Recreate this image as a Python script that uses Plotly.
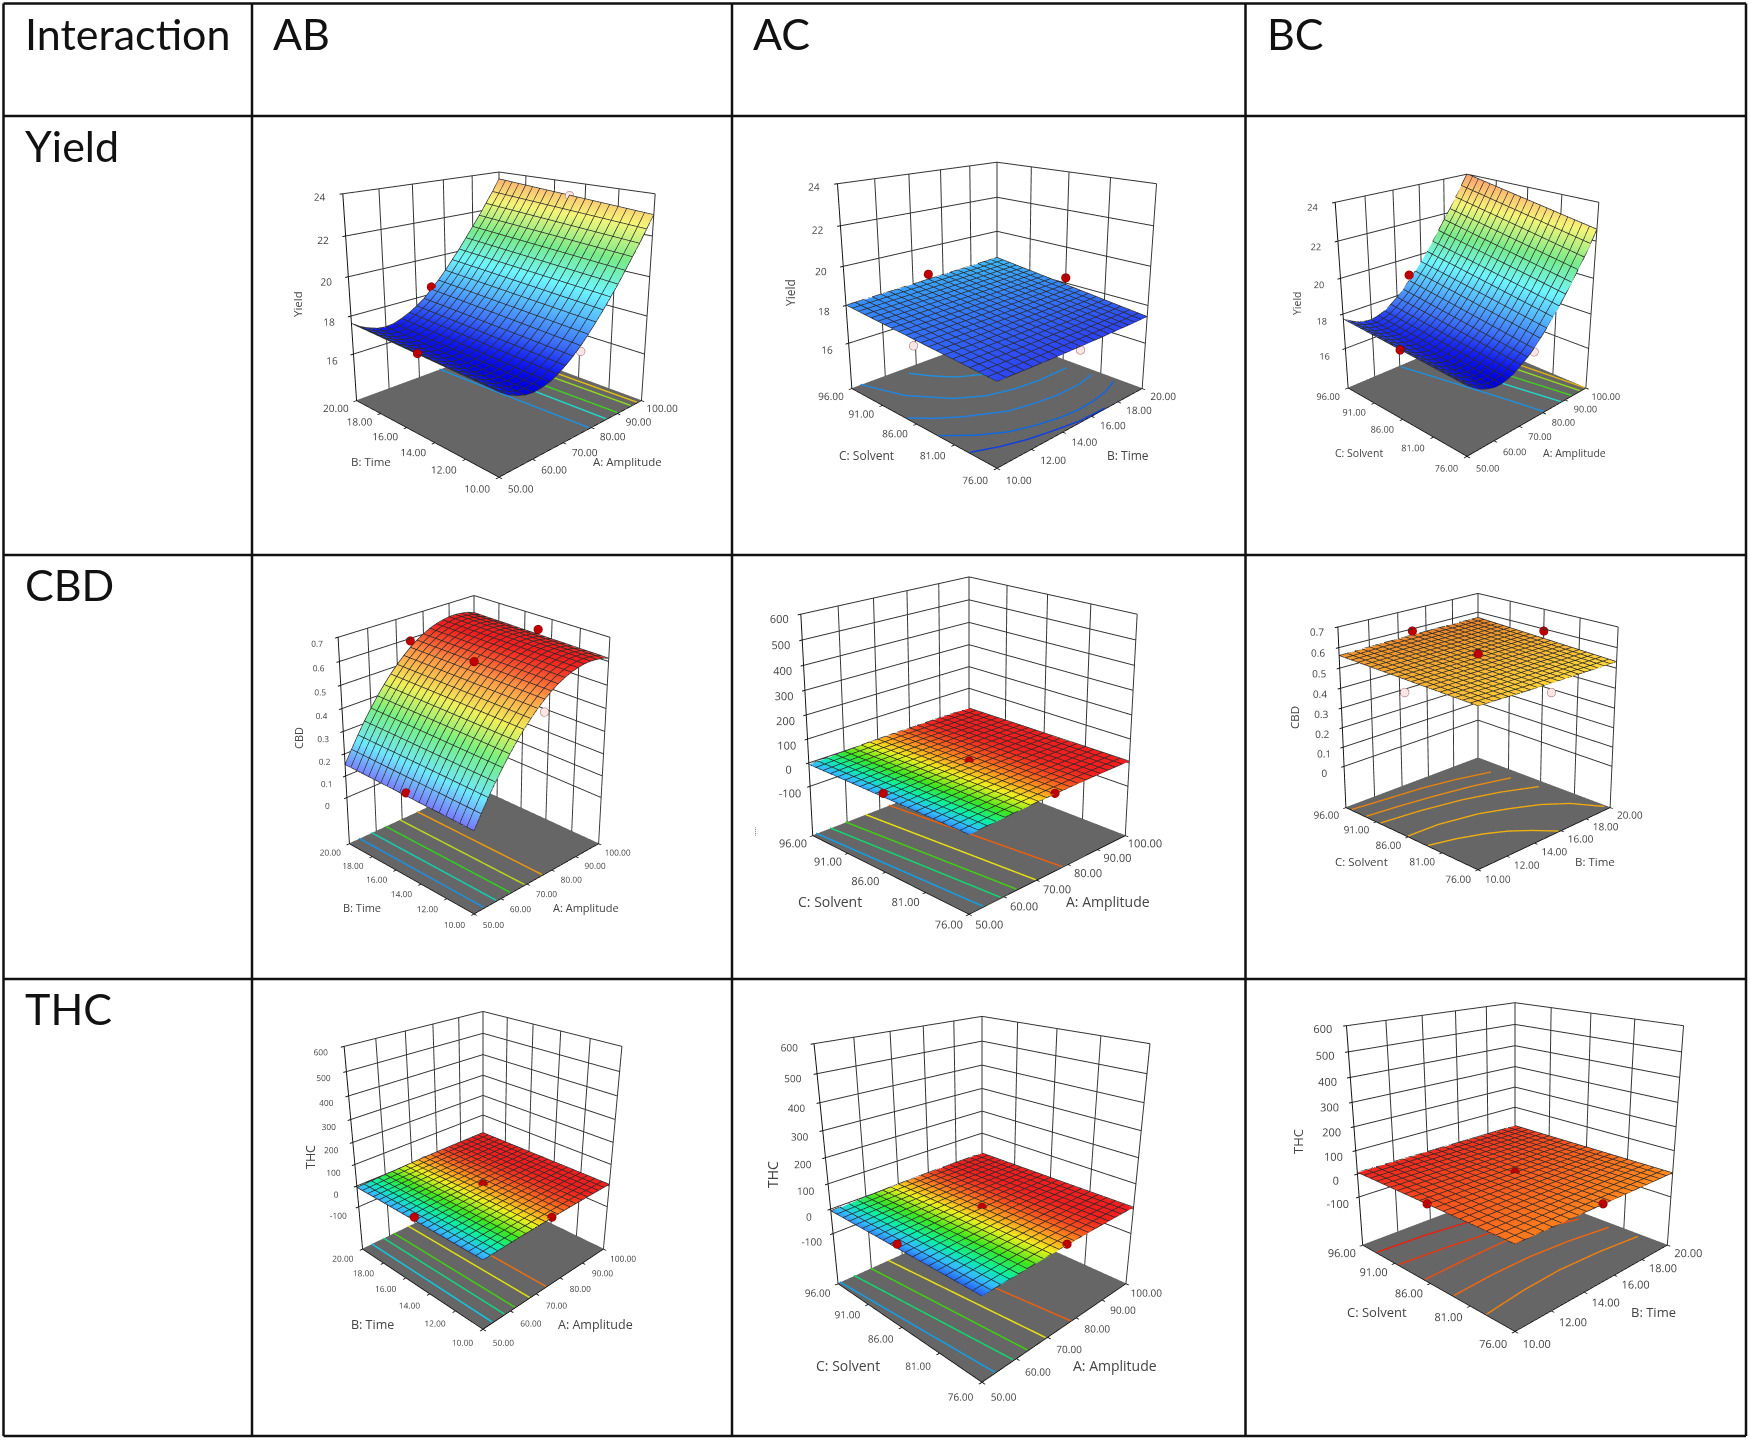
import math
import numpy as np
import plotly.graph_objects as go

W_PX, H_PX = 1750, 1441

# ---- table text ----
COLUMN_HEADERS = ["Interaction", "AB", "AC", "BC"]
ROW_HEADERS = ["Yield", "CBD", "THC"]

# ---- factor axes ----
A_TICKS = [50, 60, 70, 80, 90, 100]
B_TICKS = [10, 12, 14, 16, 18, 20]
C_TICKS = [76, 81, 86, 91, 96]
Z_YIELD_TICKS = [16, 18, 20, 22, 24]
Z_CBD_TICKS = [0, 0.1, 0.2, 0.3, 0.4, 0.5, 0.6, 0.7]
Z_THC_TICKS = [-100, 0, 100, 200, 300, 400, 500, 600]

# ---- surfaces: z along the low and the high edge of the left-hand factor (21 nodes along the right-hand factor) ----
YIELD_AB_LO = [17.3,17.0,16.8,16.65,16.6,16.65,16.75,16.95,17.2,17.5,17.85,18.25,18.7,19.15,19.65,20.15,20.7,21.25,21.8,22.4,23.0]
YIELD_AB_HI = [17.6,17.3,17.1,16.95,16.9,16.95,17.1,17.3,17.55,17.85,18.25,18.65,19.1,19.6,20.1,20.65,21.2,21.75,22.35,22.95,23.6]
YIELD_AC_LO = [17.40,17.39,17.38,17.37,17.36,17.36,17.35,17.35,17.35,17.35,17.35,17.35,17.35,17.35,17.36,17.36,17.37,17.37,17.38,17.39,17.40]
YIELD_AC_HI = [18.00,18.02,18.04,18.06,18.08,18.10,18.12,18.14,18.16,18.18,18.20,18.22,18.24,18.26,18.28,18.30,18.32,18.34,18.36,18.38,18.40]
YIELD_BC_LO = [17.3,17.0,16.75,16.6,16.5,16.5,16.6,16.75,17.0,17.25,17.55,17.95,18.35,18.8,19.25,19.75,20.25,20.8,21.35,21.95,22.6]
YIELD_BC_HI = [17.7,17.45,17.25,17.15,17.1,17.2,17.35,17.6,17.9,18.25,18.65,19.1,19.55,20.05,20.55,21.1,21.65,22.2,22.8,23.4,24.0]
CBD_AB_LO = [.14,.196,.249,.299,.345,.388,.427,.463,.495,.524,.55,.572,.59,.605,.616,.624,.629,.63,.627,.622,.612]
CBD_AB_HI = [.15,.206,.259,.309,.355,.398,.437,.473,.505,.534,.56,.582,.6,.615,.626,.634,.639,.64,.637,.632,.622]
CBD_AC_LO = [-9,-7.5,-6,-4.5,-3,-1.7,-.5,.6,1.6,2.5,3.3,4,4.6,5.1,5.5,5.8,6,6.1,6.2,6.2,6.1]
CBD_AC_HI = [-8,-6.5,-5,-3.5,-2,-.8,.4,1.5,2.4,3.2,3.9,4.5,5,5.4,5.7,5.9,6,6.1,6.2,6.2,6.1]
CBD_BC_LO = [.540,.539,.538,.537,.536,.535,.534,.533,.533,.532,.532,.532,.531,.531,.531,.531,.530,.530,.530,.530,.530]
CBD_BC_HI = [.560,.561,.562,.563,.564,.565,.566,.566,.567,.567,.568,.568,.568,.569,.569,.569,.569,.570,.570,.570,.570]
THC_AB_LO = [-9,-7.6,-6.2,-4.8,-3.4,-2.1,-.9,.2,1.2,2.1,2.9,3.6,4.2,4.7,5.2,5.5,5.8,6,6.1,6.2,6.2]
THC_AB_HI = [-8.5,-7.1,-5.7,-4.3,-2.9,-1.6,-.4,.7,1.7,2.6,3.4,4.1,4.7,5.2,5.6,5.8,6,6.1,6.2,6.2,6.2]
THC_AC_LO = [-10,-8.5,-7,-5.5,-4,-2.7,-1.4,-.2,.9,1.9,2.8,3.6,4.3,4.9,5.3,5.6,5.9,6,6.1,6.2,6.1]
THC_AC_HI = [-8.5,-7,-5.5,-4,-2.6,-1.3,-.1,1,2,2.9,3.7,4.4,5,5.4,5.7,5.9,6,6.1,6.2,6.2,6.1]
THC_BC_LO = [4.0,3.98,3.96,3.94,3.92,3.9,3.88,3.86,3.84,3.82,3.8,3.78,3.76,3.74,3.72,3.7,3.68,3.66,3.64,3.62,3.6]
THC_BC_HI = [5.9,5.88,5.86,5.84,5.82,5.8,5.78,5.76,5.74,5.72,5.7,5.68,5.66,5.64,5.62,5.6,5.58,5.56,5.54,5.52,5.5]

# ---- design points: x, y, z ----
YIELD_AB_RED = ([50,75],[15,20],[17.5,18.4])
YIELD_AB_OPEN = ([75,100],[10,15],[17.6,23.3])
YIELD_AC_RED = ([15,20],[96,86],[18.5,18.3])
YIELD_AC_OPEN = ([10,15],[86,76],[17.4,17.2])
YIELD_BC_RED = ([50,75],[86,96],[17.5,19.0])
YIELD_BC_OPEN = ([75],[76],[17.4])
CBD_AB_RED = ([75,50,75,100],[20,15,15,15],[.59,.16,.6,.64])
CBD_AB_OPEN = ([75],[10],[.5])
CBD_AC_RED = ([50,75,75],[86,76,86],[8,8,8])
CBD_AC_OPEN = ([75,100],[96,86],[-12,-12])
CBD_BC_RED = ([15,20,15],[96,86,86],[.59,.59,.57])
CBD_BC_OPEN = ([10,15],[86,76],[.49,.49])
THC_AB_RED = ([50,75,75],[15,10,15],[8,8,8])
THC_AB_OPEN = ([75,100],[20,15],[-12,-12])
THC_AC_RED = ([50,75,75],[86,76,86],[8,8,8])
THC_AC_OPEN = ([75,100],[96,86],[-12,-12])
THC_BC_RED = ([10,15,15],[86,76,86],[8,8,8])
THC_BC_OPEN = ([15,20],[96,86],[-12,-12])

# ---- contour lines on the floor: colour, x list, y list ----
YIELD_AB_LINES = [("#1e90e0",[79.2,78,77],[10,15,20]),("#20d8c8",[85.5,84.8,84],[10,15,20]),
                  ("#40d020",[90,89.2,88.5],[10,15,20]),("#90d820",[95.4,94.7,94],[10,15,20]),("#e0c010",[98,97.5,97],[10,15,20])]
YIELD_AC_LINES = [("#1e90e0",[13,13.6,14.4,15.8,17.5,20],[94.7,92.6,90.6,88.9,88,87.5]),
                  ("#1e88e0",[10.5,11.3,12.7,14,15.5,17,19.2],[96,91,87.3,85.5,84.6,84.2,84.2]),
                  ("#1e80e0",[10,10.8,11.8,13.6,15,16.4,18,19.5],[87.3,85.6,84,81.9,81.2,80.8,80.8,81.3]),
                  ("#1068e0",[10,11.1,12.3,13.6,14.9,16,17.1,18.4,19.6],[82.9,80.8,79.2,78.3,77.7,77.5,77.6,78,78.8]),
                  ("#1040e0",[10,11.2,12.4,13.8,15.2,17,20],[79.1,78,77.2,76.6,76.1,76,76])]
YIELD_BC_LINES = [("#1e90e0",[80.3,78,75.4,72.6,69.7],[76,80.6,85.3,90.4,95.5]),("#20d8c8",[88,85.7,83.5,81.2,79],[76,80.5,85,89.5,94]),
                  ("#40d020",[93,91,89,87,85],[76,80.5,85,89.5,94]),("#90d820",[97,95.5,94,92,90],[76,80.5,85,89.5,94]),("#e0b010",[99.5,98.3,97,95.5,94],[76,80.5,85,89.5,94])]
CBD_AB_LINES = [("#1e90e0",[53.6,53.6],[10,20]),("#10d0b0",[58.2,58.2],[10,20]),("#30d020",[63.5,63.5],[10,20]),
                ("#b8d820",[69,69],[10,20]),("#e89a10",[76,76],[10,20])]
CBD_AC_LINES = [("#10a0e8",[53.9,51],[76,96]),("#10d870",[59,55],[76,96]),("#40d010",[63.8,59.5],[76,96]),
                ("#e8e010",[69.6,65.4],[76,96]),("#e86010",[78,72.8],[76,96])]
CBD_BC_LINES = [("#e8820e",[10,12,14.5,16.7,18.9],[95,94.5,93.9,93,91.7]),("#ea8c10",[10,12,14.4,16.8,19.1],[92.6,92.1,91.3,90.3,88.9]),
                ("#eda010",[10,12.5,15,17.2,19.3],[90.3,89.6,88.5,87,85]),
                ("#f0aa10",[10,12,14.4,16,17.6,18.8,19.8],[86,85.8,84.7,83.3,81.6,79.6,76.5]),
                ("#f0b010",[10,11.5,12.9,14,14.9,15.8],[83,82.1,80.9,79.6,78,76])]
THC_AB_LINES = [("#10c8e0",[53.3,53.3],[10,20]),("#10d880",[57.7,57.7],[10,20]),("#40d010",[61.6,61.6],[10,20]),
                ("#e0e010",[67.3,67.3],[10,20]),("#e87010",[74,74],[10,20])]
THC_AC_LINES = [("#10a0e8",[53.6,50.5],[76,96]),("#10d870",[59,54.7],[76,96]),("#40d010",[63.4,59.7],[76,96]),
                ("#e8e010",[69.3,65.3],[76,96]),("#e86010",[77.9,72.5],[76,96])]
THC_BC_LINES = [("#e82010",[10,12.5,15.1,17.5,20],[93.7,93.4,92.7,92,91]),("#e83810",[10,12.5,15.2,17.5,20],[90.4,90,89.3,88.7,88]),
                ("#ec5010",[10,12.6,15.4,17.5,19.2],[86.7,87,87.1,86.4,85.4]),("#ee6810",[10,12.3,14.6,17,19.5],[83,83.3,83.3,82.9,82.1]),
                ("#ee8010",[10,12.3,14.6,17.2,19.7],[79.1,79.6,79.8,79.5,78.9])]

# ---- colour scales ----
SOFT = [[0,"rgb(0,0,220)"],[.05,"rgb(20,30,240)"],[.15,"rgb(60,110,250)"],[.28,"rgb(85,180,255)"],[.42,"rgb(110,245,255)"],[.6,"rgb(120,235,140)"],[.8,"rgb(245,245,120)"],[1,"rgb(255,160,110)"]]
PALE = [[0,"rgb(120,120,255)"],[.2,"rgb(110,230,255)"],[.45,"rgb(120,240,130)"],[.65,"rgb(240,240,90)"],[.85,"rgb(255,150,70)"],[1,"rgb(240,30,30)"]]
FULL = [[0,"rgb(40,90,240)"],[.15,"rgb(50,190,255)"],[.3,"rgb(10,240,170)"],[.5,"rgb(60,230,30)"],[.7,"rgb(240,240,30)"],[.85,"rgb(255,140,30)"],[1,"rgb(240,30,30)"]]
SKY = [[0,"rgb(45,60,240)"],[1,"rgb(60,190,255)"]]
AMBER = [[0,"rgb(255,215,60)"],[1,"rgb(235,130,40)"]]

A_NAME, B_NAME, C_NAME = "A: Amplitude", "B: Time", "C: Solvent"

# plot description: geometry (pixels of the full page)
PLOTS = [
 dict(x=A_TICKS,y=B_TICKS,zt=Z_YIELD_TICKS,z0=13.45,lo=YIELD_AB_LO,hi=YIELD_AB_HI,red=YIELD_AB_RED,op=YIELD_AB_OPEN,lines=YIELD_AB_LINES,cs=SOFT,cr=(16.6,24),
      cx=499,cy=302,a=149,c=1.03,el=18,ts=11,fs=11.5,xn=A_NAME,yn=B_NAME,zn="Yield",xp=(627,462),yp=(371,462),zp=(298,304)),
 dict(x=B_TICKS,y=C_TICKS,zt=Z_YIELD_TICKS,z0=13.5,lo=YIELD_AC_LO,hi=YIELD_AC_HI,red=YIELD_AC_RED,op=YIELD_AC_OPEN,lines=YIELD_AC_LINES,cs=SKY,cr=(17.3,18.4),
      cx=997,cy=291,a=152,c=1.0,el=18,ts=11,fs=12,xn=B_NAME,yn=C_NAME,zn="Yield",xp=(1128,455),yp=(866,455),zp=(791,293)),
 dict(x=A_TICKS,y=C_TICKS,zt=Z_YIELD_TICKS,z0=13.6,lo=YIELD_BC_LO,hi=YIELD_BC_HI,red=YIELD_BC_RED,op=YIELD_BC_OPEN,lines=YIELD_BC_LINES,cs=SOFT,cr=(16.5,24),
      cx=1467,cy=300,a=125,c=1.13,el=22,ts=10.5,fs=10.5,xn=A_NAME,yn=C_NAME,zn="Yield",xp=(1574,453),yp=(1359,453),zp=(1297,303)),
 dict(x=A_TICKS,y=B_TICKS,zt=Z_CBD_TICKS,z0=-.22,lo=CBD_AB_LO,hi=CBD_AB_HI,red=CBD_AB_RED,op=CBD_AB_OPEN,lines=CBD_AB_LINES,cs=PALE,cr=(.14,.63),
      cx=474,cy=745,a=130,c=1.24,el=25.3,ts=10,fs=11,xn=A_NAME,yn=B_NAME,zn="CBD",xp=(586,907),yp=(362,907),zp=(298,738)),
 dict(x=A_TICKS,y=C_TICKS,zt=Z_THC_TICKS,z0=-316,lo=CBD_AC_LO,hi=CBD_AC_HI,red=CBD_AC_RED,op=CBD_AC_OPEN,lines=CBD_AC_LINES,cs=FULL,cr=(-10,6),
      cx=969,cy=729,a=162,c=1.03,el=20.4,ts=11.5,fs=14,xn=A_NAME,yn=C_NAME,zn=".....",xp=(1108,901),yp=(830,901),zp=(753,832)),
 dict(x=B_TICKS,y=C_TICKS,zt=Z_CBD_TICKS,z0=-.22,lo=CBD_BC_LO,hi=CBD_BC_HI,red=CBD_BC_RED,op=CBD_BC_OPEN,lines=CBD_BC_LINES,cs=AMBER,cr=(.53,.57),
      cx=1478,cy=720,a=136,c=1.0,el=20.2,ts=11,fs=11.5,xn=B_NAME,yn=C_NAME,zn="CBD",xp=(1595,861),yp=(1361,861),zp=(1294,718)),
 dict(x=A_TICKS,y=B_TICKS,zt=Z_THC_TICKS,z0=-313,lo=THC_AB_LO,hi=THC_AB_HI,red=THC_AB_RED,op=THC_AB_OPEN,lines=THC_AB_LINES,cs=FULL,cr=(-10.5,6),
      cx=483,cy=1155,a=129,c=1.23,el=26,ts=10,fs=12.5,xn=A_NAME,yn=B_NAME,zn="THC",xp=(595,1324),yp=(372,1324),zp=(310,1157)),
 dict(x=A_TICKS,y=C_TICKS,zt=Z_THC_TICKS,z0=-316,lo=THC_AC_LO,hi=THC_AC_HI,red=THC_AC_RED,op=THC_AC_OPEN,lines=THC_AC_LINES,cs=FULL,cr=(-10,6),
      cx=982,cy=1173,a=155,c=1.18,el=22.7,ts=11,fs=14,xn=A_NAME,yn=C_NAME,zn="THC",xp=(1115,1365),yp=(848,1365),zp=(772,1175)),
 dict(x=B_TICKS,y=C_TICKS,zt=Z_THC_TICKS,z0=-318,lo=THC_BC_LO,hi=THC_BC_HI,red=THC_BC_RED,op=THC_BC_OPEN,lines=THC_BC_LINES,cs=FULL,cr=(-10,6),
      cx=1515,cy=1141,a=160,c=1.02,el=18.5,ts=11.5,fs=13,xn=B_NAME,yn=C_NAME,zn="THC",xp=(1653,1312),yp=(1377,1312),zp=(1298,1142)),
]

V_LINES = [3.5, 252, 732, 1245.5, 1746]
H_LINES = [3.5, 116, 555, 979, 1436]
LABEL_FONT = "Open Sans"

fig = go.Figure()
layout = {}
annots = []

def px(x): return x / W_PX
def py(y): return 1 - y / H_PX

for n, p in enumerate(PLOTS, start=1):
    name = "scene" if n == 1 else f"scene{n}"
    nx = len(p["lo"])
    xs = np.linspace(p["x"][0], p["x"][-1], nx)
    ys = np.linspace(p["y"][0], p["y"][-1], nx)
    lo, hi = np.array(p["lo"]), np.array(p["hi"])
    Z = np.array([lo + (hi - lo) * j / (nx - 1) for j in range(nx)])
    zmax = p["zt"][-1]
    span = zmax - p["z0"]
    fig.add_trace(go.Surface(
        x=xs, y=ys, z=Z, colorscale=p["cs"], cmin=p["cr"][0], cmax=p["cr"][1], showscale=False,
        hoverinfo="skip", scene=name,
        lighting=dict(ambient=1, diffuse=0, specular=0, roughness=1, fresnel=0),
        contours=dict(x=dict(highlight=False), y=dict(highlight=False), z=dict(highlight=False))))
    # mesh of the surface, drawn from the same grid
    lift = span * 0.002
    gx, gy, gz = [], [], []
    for i in range(nx):
        gx += list(xs) + [None]
        gy += [ys[i]] * nx + [None]
        gz += list(Z[i] + lift) + [None]
        gx += [xs[i]] * nx + [None]
        gy += list(ys) + [None]
        gz += list(Z[:, i] + lift) + [None]
    fig.add_trace(go.Scatter3d(x=gx, y=gy, z=gz, mode="lines", line=dict(color="#2a2a2a", width=1.5),
                               connectgaps=False, hoverinfo="skip", scene=name, showlegend=False))
    floor = p["z0"] + span * 0.002
    fig.add_trace(go.Surface(
        x=[xs[0], xs[-1]], y=[ys[0], ys[-1]], z=[[floor, floor], [floor, floor]],
        colorscale=[[0, "#666666"], [1, "#666666"]], showscale=False, hoverinfo="skip", scene=name,
        lighting=dict(ambient=1, diffuse=0, specular=0, roughness=1, fresnel=0),
        contours=dict(x=dict(highlight=False), y=dict(highlight=False), z=dict(highlight=False))))
    for col, lx, ly in p["lines"]:
        fig.add_trace(go.Scatter3d(x=lx, y=ly, z=[p["z0"] + span * 0.005] * len(lx), mode="lines",
                                   line=dict(color=col, width=3), hoverinfo="skip", scene=name, showlegend=False))
    rx, ry, rz = p["red"]
    fig.add_trace(go.Scatter3d(x=rx, y=ry, z=rz, mode="markers", hoverinfo="skip", scene=name, showlegend=False,
                               marker=dict(size=5, color="#c00000", line=dict(color="#7a0000", width=1))))
    ox, oy, oz = p["op"]
    fig.add_trace(go.Scatter3d(x=ox, y=oy, z=oz, mode="markers", hoverinfo="skip", scene=name, showlegend=False,
                               marker=dict(size=5, color="#fbe6e6", line=dict(color="#a06060", width=1))))

    # camera / viewport: the cube centre must sit at the centre of the viewport
    cx, cy = p["cx"], p["cy"]
    H = min(2 * min(cy, H_PX - cy), 930)
    W = min(2 * min(cx, W_PX - cx), 620)
    f = 1.2071 * H
    D = f * 0.7071 / p["a"]
    el = math.radians(p["el"])
    eye = dict(x=-D * math.cos(el) * 0.7071, y=-D * math.cos(el) * 0.7071, z=D * math.sin(el))

    def axis(ticks, rng, labels):
        return dict(range=rng, tickmode="array", tickvals=ticks, ticktext=labels, showgrid=True,
                    gridcolor="#333333", gridwidth=2, showline=True, linecolor="#111111", linewidth=2,
                    ticks="outside", ticklen=3, tickcolor="#111111", tickwidth=2, showbackground=False,
                    zeroline=False, showspikes=False, title=dict(text=""), tickangle=0,
                    tickfont=dict(size=p["ts"], color="#444444", family=LABEL_FONT))
    layout[name] = dict(
        domain=dict(x=[px(cx - W/2), px(cx + W/2)], y=[py(cy + H/2), py(cy - H/2)]),
        aspectmode="manual", aspectratio=dict(x=1, y=1, z=p["c"]),
        camera=dict(eye=eye, center=dict(x=0, y=0, z=0), up=dict(x=0, y=0, z=1)),
        bgcolor="rgba(0,0,0,0)", dragmode=False,
        xaxis=axis(p["x"], [p["x"][0], p["x"][-1]], [f"{v:.2f}" for v in p["x"]]),
        yaxis=axis(p["y"], [p["y"][0], p["y"][-1]], [f"{v:.2f}" for v in p["y"]]),
        zaxis=axis(p["zt"], [p["z0"], zmax], [f"{v:g}" for v in p["zt"]]),
    )
    for t, pos in ((p["xn"], p["xp"]), (p["yn"], p["yp"])):
        annots.append(dict(text=t, x=px(pos[0]), y=py(pos[1]), xref="paper", yref="paper", showarrow=False,
                           xanchor="center", yanchor="middle", font=dict(size=p["fs"], color="#444444", family=LABEL_FONT)))
    annots.append(dict(text=p["zn"], x=px(p["zp"][0]), y=py(p["zp"][1]), xref="paper", yref="paper", showarrow=False,
                       textangle=-90, xanchor="center", yanchor="middle",
                       font=dict(size=p["fs"] if p["zn"] != "....." else 7, color="#444444", family=LABEL_FONT)))

# table text
HEAD_LEFT = [23, 271, 751, 1265]
for t, xp in zip(COLUMN_HEADERS, HEAD_LEFT):
    annots.append(dict(text=t, x=px(xp), y=py(33), xref="paper", yref="paper", showarrow=False, xanchor="left",
                       yanchor="middle", font=dict(size=43, color="#111111", family="Lato")))
for t, yp in zip(ROW_HEADERS, [146, 585, 1008]):
    annots.append(dict(text=t, x=px(23), y=py(yp), xref="paper", yref="paper", showarrow=False, xanchor="left",
                       yanchor="middle", font=dict(size=43, color="#111111", family="Lato")))

shapes = []
for v in V_LINES:
    shapes.append(dict(type="line", xref="paper", yref="paper", x0=px(v), x1=px(v), y0=py(H_LINES[0]), y1=py(H_LINES[-1]),
                       line=dict(color="#111111", width=2.5)))
for h in H_LINES:
    shapes.append(dict(type="line", xref="paper", yref="paper", x0=px(V_LINES[0]), x1=px(V_LINES[-1]), y0=py(h), y1=py(h),
                       line=dict(color="#111111", width=2.5)))

fig.update_layout(width=W_PX, height=H_PX, margin=dict(l=0, r=0, t=0, b=0, pad=0), paper_bgcolor="white",
                  showlegend=False, annotations=annots, shapes=shapes, **layout)
fig.write_html("out.html", config={"displayModeBar": False},
               post_script="document.body.style.margin='0';document.body.style.overflow='hidden';")
